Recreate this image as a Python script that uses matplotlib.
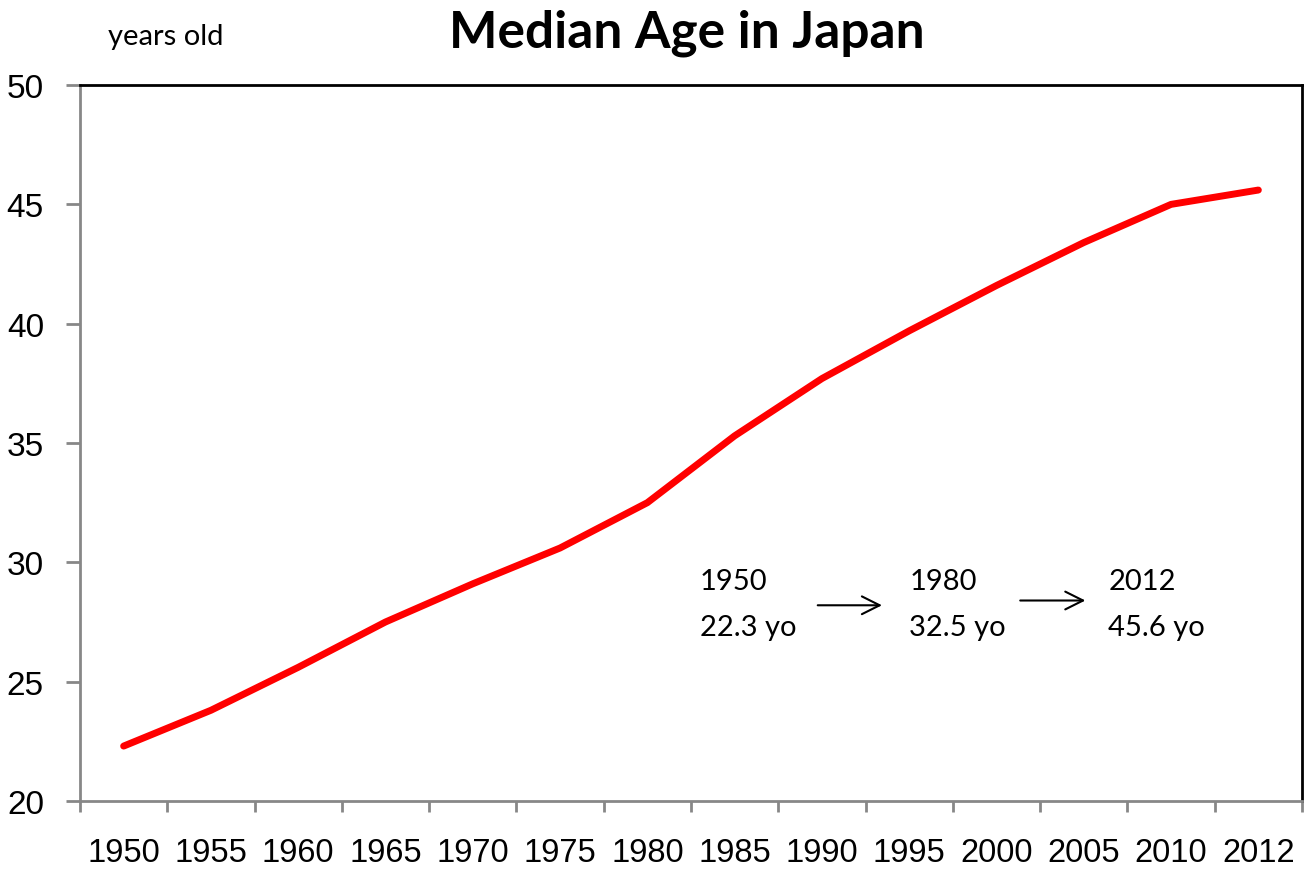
import numpy as np
import matplotlib.pyplot as plt
from matplotlib.ticker import FixedLocator

years = ["1950", "1955", "1960", "1965", "1970", "1975", "1980",
         "1985", "1990", "1995", "2000", "2005", "2010", "2012"]
median_age = [22.3, 23.8, 25.6, 27.5, 29.1, 30.6, 32.5,
              35.3, 37.7, 39.7, 41.6, 43.4, 45.0, 45.6]

note_years = ["1950", "1980", "2012"]
note_ages = [22.3, 32.5, 45.6]

fig = plt.figure(figsize=(13.05, 8.7), dpi=100)
ax = fig.add_axes([0.0613, 0.0782, 0.9364, 0.8229])

x = np.arange(len(years))
ax.plot(x, median_age, color="#ff0000", lw=5, solid_capstyle="round", solid_joinstyle="round")

ax.set_xlim(-0.5, len(years) - 0.5)
ax.set_ylim(20, 50)
ax.set_yticks(np.arange(20, 51, 5))
ax.set_xticks(x)
ax.set_xticklabels(years)
ax.xaxis.set_minor_locator(FixedLocator(np.arange(-0.5, len(years), 1)))

ax.tick_params(axis="x", which="major", length=0, pad=26, labelsize=23.5)
ax.tick_params(axis="x", which="minor", length=8, width=2, color="#878787")
ax.tick_params(axis="y", length=10, width=2, color="#878787", pad=16, labelsize=24)
for lab in ax.get_xticklabels() + ax.get_yticklabels():
    lab.set_family("Liberation Sans")

ax.spines["left"].set_color("#878787")
ax.spines["bottom"].set_color("#878787")
for s in ax.spines.values():
    s.set_linewidth(2)

fig.text(0.526, 0.962, "Median Age in Japan", ha="center", va="center",
         fontsize=37, fontweight="bold", family="Lato")
fig.text(0.0827, 0.957, "years old", ha="left", va="center", fontsize=21, family="Lato")

# annotation text
note_x = [6.6, 9.0, 11.28]
for xx, yr, ag in zip(note_x, note_years, note_ages):
    ax.text(xx, 29.2, yr, ha="left", va="center", fontsize=21, family="Lato")
    ax.text(xx, 27.3, f"{ag} yo", ha="left", va="center", fontsize=21, family="Lato")

for x0, x1, yy in [(7.92, 8.72, 28.2), (10.24, 11.05, 28.4)]:
    ax.annotate("", xy=(x1, yy), xytext=(x0, yy),
                arrowprops=dict(arrowstyle="->", lw=1.5, color="black", mutation_scale=32))

plt.savefig("out.png", dpi=100)
